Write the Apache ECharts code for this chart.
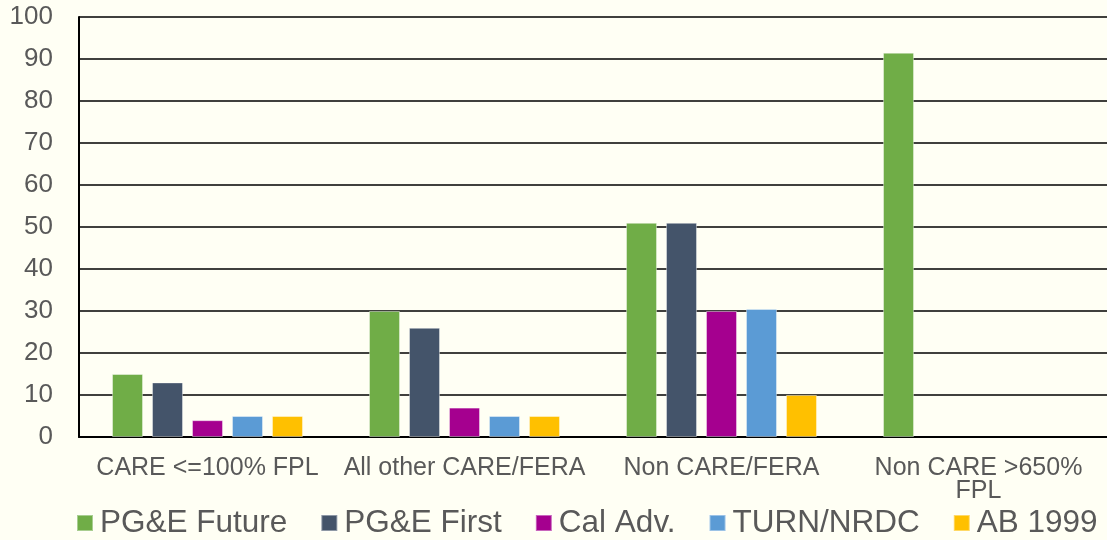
<!DOCTYPE html>
<html>
<head>
<meta charset="utf-8">
<script src="https://cdn.jsdelivr.net/npm/echarts@6/dist/echarts.min.js"></script>
<style>
html,body{margin:0;padding:0;background:#FFFFF4;}
#c{width:1107px;height:540px;}
</style>
</head>
<body>
<div id="c"></div>
<script>
const categories = ['CARE <=100% FPL', 'All other CARE/FERA', 'Non CARE/FERA', 'Non CARE >650% FPL'];
const seriesNames = ['PG&E Future', 'PG&E First', 'Cal Adv.', 'TURN/NRDC', 'AB 1999'];
const pgeFuture = [15, 30, 51, 91.5];
const pgeFirst = [13, 26, 51, null];
const calAdv = [4, 7, 30, null];
const turnNrdc = [5, 5, 30.5, null];
const ab1999 = [5, 5, 10, null];
const yTicks = [0, 10, 20, 30, 40, 50, 60, 70, 80, 90, 100];

const colors = ['#70AD47', '#44546A', '#A5008F', '#5B9BD5', '#FFC000'];
const values = [pgeFuture, pgeFirst, calAdv, turnNrdc, ab1999];

const chart = echarts.init(document.getElementById('c'));
chart.setOption({
  backgroundColor: '#FFFFF4',
  animation: false,
  textStyle: { fontFamily: 'Liberation Sans, Arial, sans-serif' },
  grid: { left: 79, right: 0, top: 17, bottom: 103, containLabel: false },
  legend: {
    left: 76, top: 507, width: 1031, padding: 0,
    itemWidth: 16, itemHeight: 16, itemGap: 33,
    icon: 'rect',
    textStyle: { fontSize: 31.5, color: '#595959', padding: [0, 0, 0, 2] },
    data: seriesNames
  },
  xAxis: {
    type: 'category',
    data: categories,
    axisLine: { lineStyle: { color: '#000', width: 2 } },
    axisTick: { show: false },
    axisLabel: {
      fontSize: 25, color: '#595959', margin: 20, lineHeight: 23,
      interval: 0,
      formatter: v => v === 'Non CARE >650% FPL' ? 'Non CARE >650%\nFPL' : v
    }
  },
  yAxis: {
    type: 'value',
    min: yTicks[0], max: yTicks[yTicks.length - 1], interval: 10,
    axisLine: { show: true, lineStyle: { color: '#000', width: 2 } },
    axisTick: { show: false },
    axisLabel: { fontSize: 26, color: '#595959', margin: 26 },
    splitLine: { lineStyle: { color: '#000', width: 1.5 } }
  },
  series: seriesNames.map((n, i) => ({
    name: n,
    type: 'bar',
    data: values[i],
    barWidth: 31,
    barGap: '29%',
    itemStyle: { color: colors[i], borderColor: 'rgba(255,255,255,0.4)', borderWidth: 1 }
  }))
});
</script>
</body>
</html>
